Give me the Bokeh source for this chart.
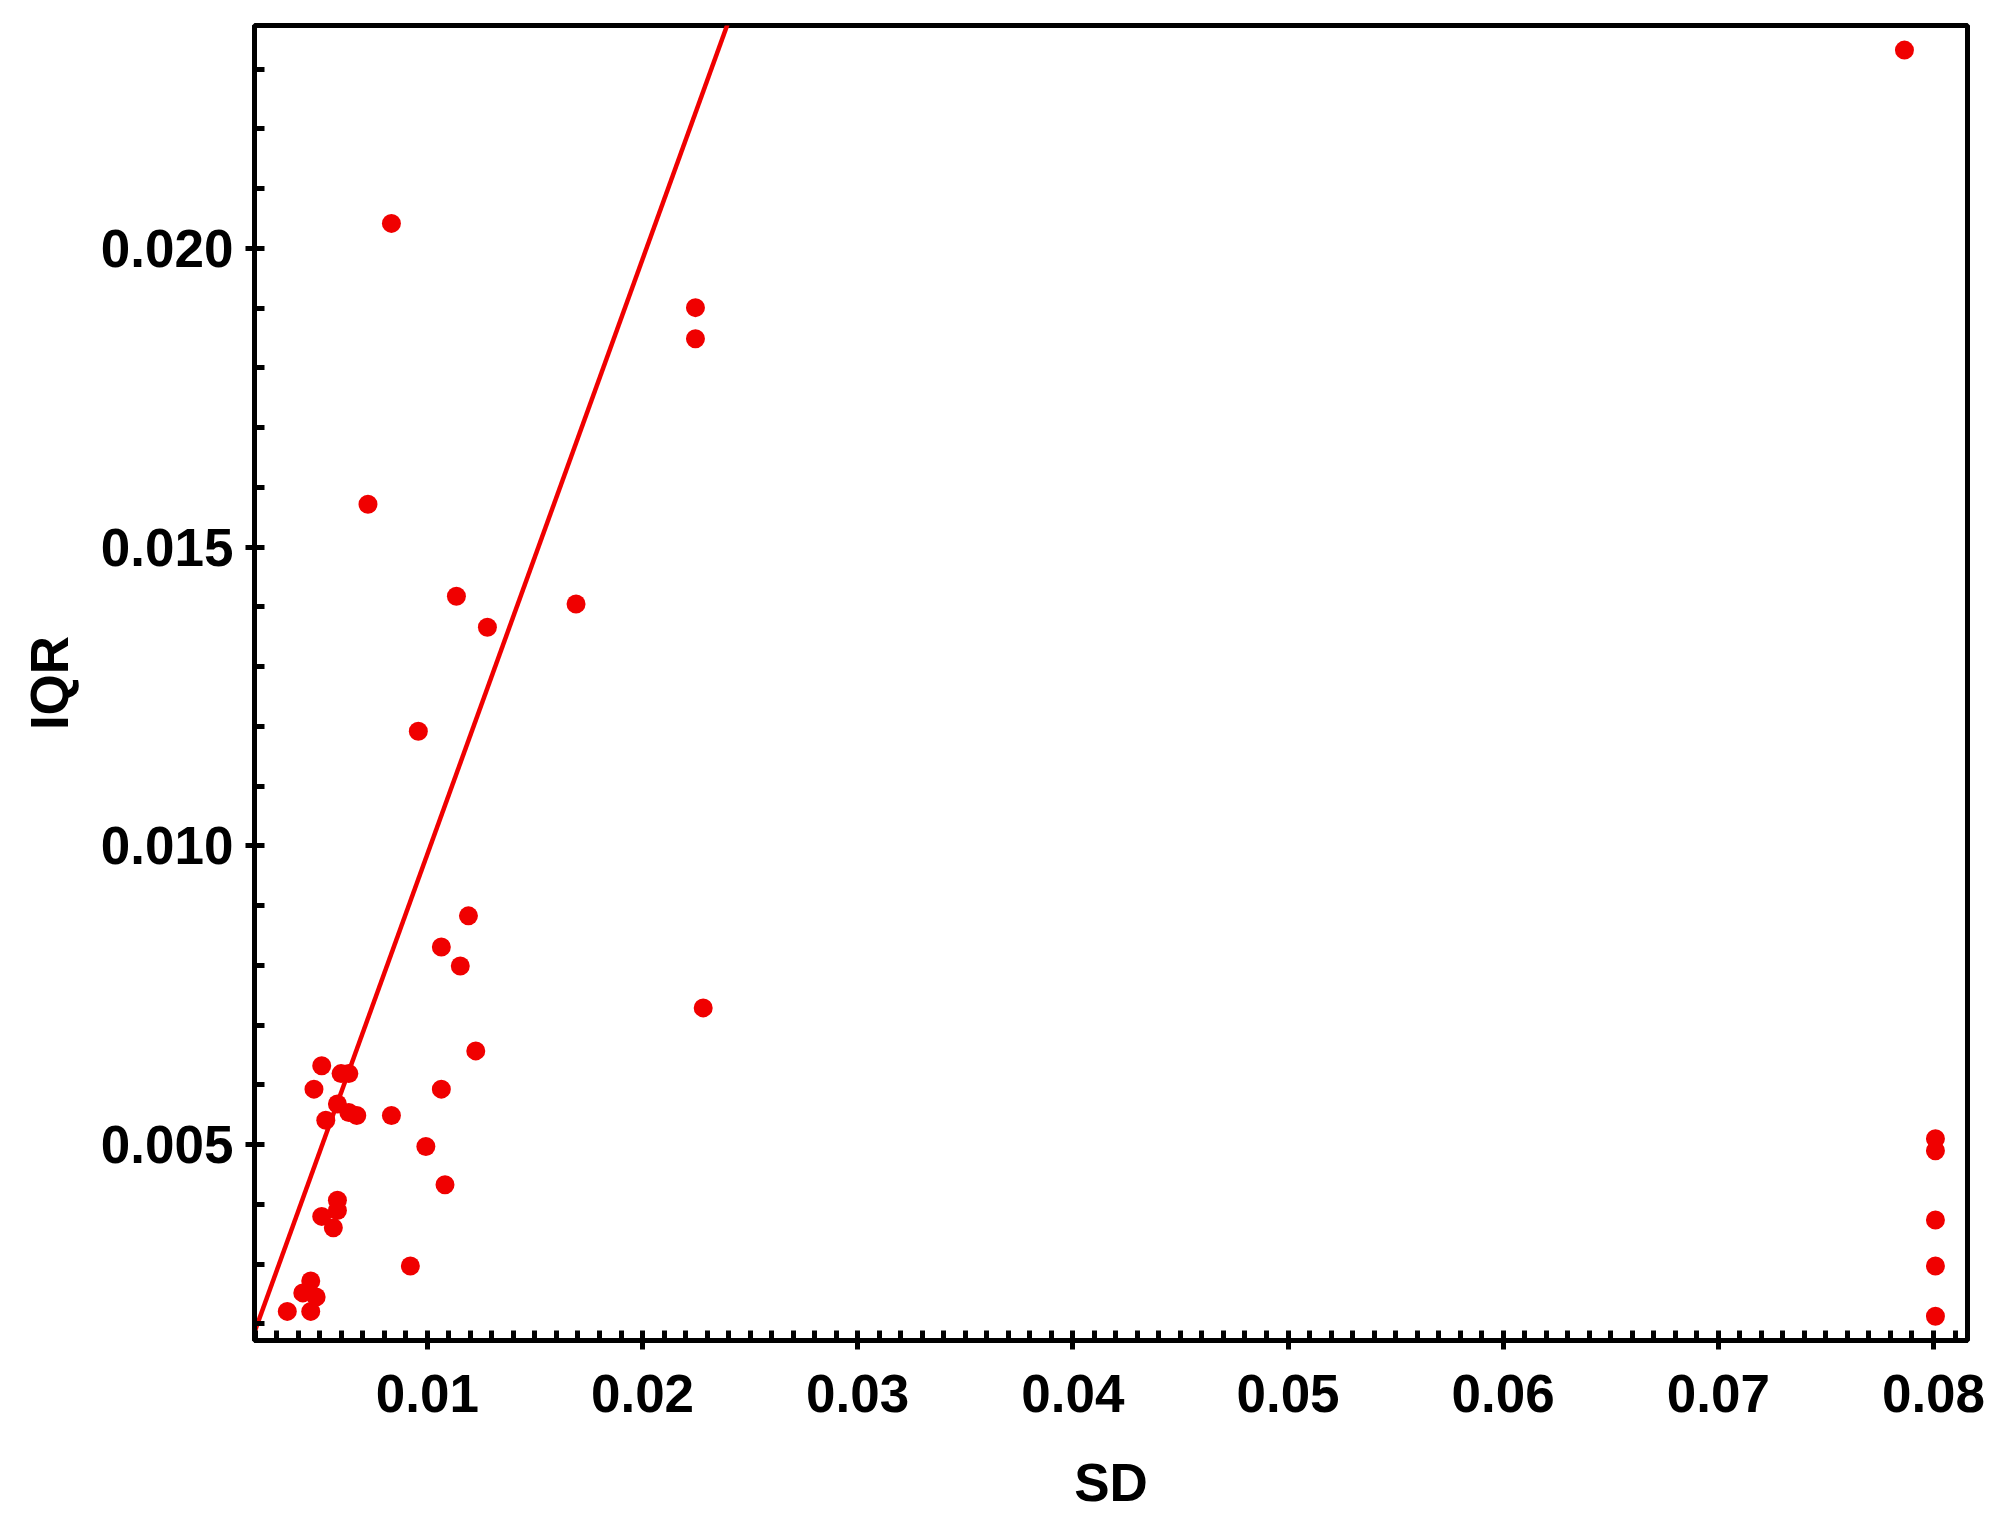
import numpy as np
from bokeh.plotting import figure
from bokeh.models import Range1d, FixedTicker
from bokeh.embed import file_html
from bokeh.resources import INLINE

# ---- data ----
sd = [0.00833, 0.02246, 0.02246, 0.00724, 0.01135, 0.01279, 0.01691, 0.00958,
      0.01191, 0.01065, 0.01153, 0.02282, 0.01225, 0.00509, 0.00599, 0.00635,
      0.00473, 0.01065, 0.00582, 0.00635, 0.00672, 0.00528, 0.00833, 0.00993,
      0.01082, 0.00582, 0.00582, 0.00509, 0.00563, 0.00921, 0.00458, 0.00421,
      0.00483, 0.00349, 0.00458,
      0.08009, 0.08009, 0.08009, 0.08009, 0.08009, 0.07865]
iqr = [0.02042, 0.01901, 0.01849, 0.01572, 0.01418, 0.01366, 0.01405, 0.01192,
       0.00883, 0.00831, 0.00799, 0.00729, 0.00657, 0.00632, 0.00619, 0.00619,
       0.00593, 0.00593, 0.00568, 0.00554, 0.00549, 0.00541, 0.00549, 0.00497,
       0.00433, 0.00407, 0.00390, 0.00380, 0.00361, 0.00297, 0.00272, 0.00252,
       0.00245, 0.00221, 0.00221,
       0.00510, 0.00490, 0.00374, 0.00297, 0.00213, 0.02332]

# reference line (endpoints read at the frame edges, extended)
line_x = [0.0015, 0.0245]
line_y = [0.0014, 0.0243]

x_ticks = [0.01, 0.02, 0.03, 0.04, 0.05, 0.06, 0.07, 0.08]
x_tick_labels = ["0.01", "0.02", "0.03", "0.04", "0.05", "0.06", "0.07", "0.08"]
y_ticks = [0.005, 0.010, 0.015, 0.020]
y_tick_labels = ["0.005", "0.010", "0.015", "0.020"]

RED = "#F00000"
FONT = "Liberation Sans"

p = figure(frame_width=1713, frame_height=1315,
           x_range=Range1d(0.001966, 0.08158), y_range=Range1d(0.001723, 0.023732),
           output_backend="svg", toolbar_location=None,
           min_border_left=254, min_border_top=25, min_border_right=21, min_border_bottom=175)

p.grid.visible = False
p.background_fill_color = "white"
p.border_fill_color = "white"
p.outline_line_color = "black"
p.outline_line_width = 5
p.outline_line_alpha = 1.0

p.line(line_x, line_y, line_color=RED, line_width=4.5)
p.scatter(sd, iqr, size=19, marker="circle", fill_color=RED, line_color=None)

x_minor = list(np.round(np.arange(0.002, 0.0816, 0.001), 4))
y_minor = list(np.round(np.arange(0.002, 0.0238, 0.001), 4))

p.xaxis.ticker = FixedTicker(ticks=x_ticks, minor_ticks=x_minor)
p.yaxis.ticker = FixedTicker(ticks=y_ticks, minor_ticks=y_minor)
p.xaxis.major_label_overrides = dict(zip(x_ticks, x_tick_labels))
p.yaxis.major_label_overrides = dict(zip(y_ticks, y_tick_labels))

for ax in (p.xaxis, p.yaxis):
    ax.axis_line_width = 5
    ax.axis_line_color = "black"
    ax.major_tick_line_width = 5
    ax.minor_tick_line_width = 5
    ax.major_tick_line_color = "black"
    ax.minor_tick_line_color = "black"
    ax.major_tick_in = 9
    ax.major_tick_out = 9
    ax.minor_tick_in = 10
    ax.minor_tick_out = 0
    ax.major_label_text_font = FONT
    ax.major_label_text_font_size = "53px"
    ax.major_label_text_font_style = "bold"
    ax.major_label_text_color = "black"
    ax.axis_label_text_font = FONT
    ax.axis_label_text_font_size = "53px"
    ax.axis_label_text_font_style = "bold"
    ax.axis_label_text_color = "black"

p.xaxis.axis_label = "SD"
p.yaxis.axis_label = "IQR"
p.xaxis.major_label_standoff = 25
p.yaxis.major_label_standoff = 12
p.xaxis.axis_label_standoff = 38
p.yaxis.axis_label_standoff = 19

open("out.html", "w").write(file_html(p, INLINE))
